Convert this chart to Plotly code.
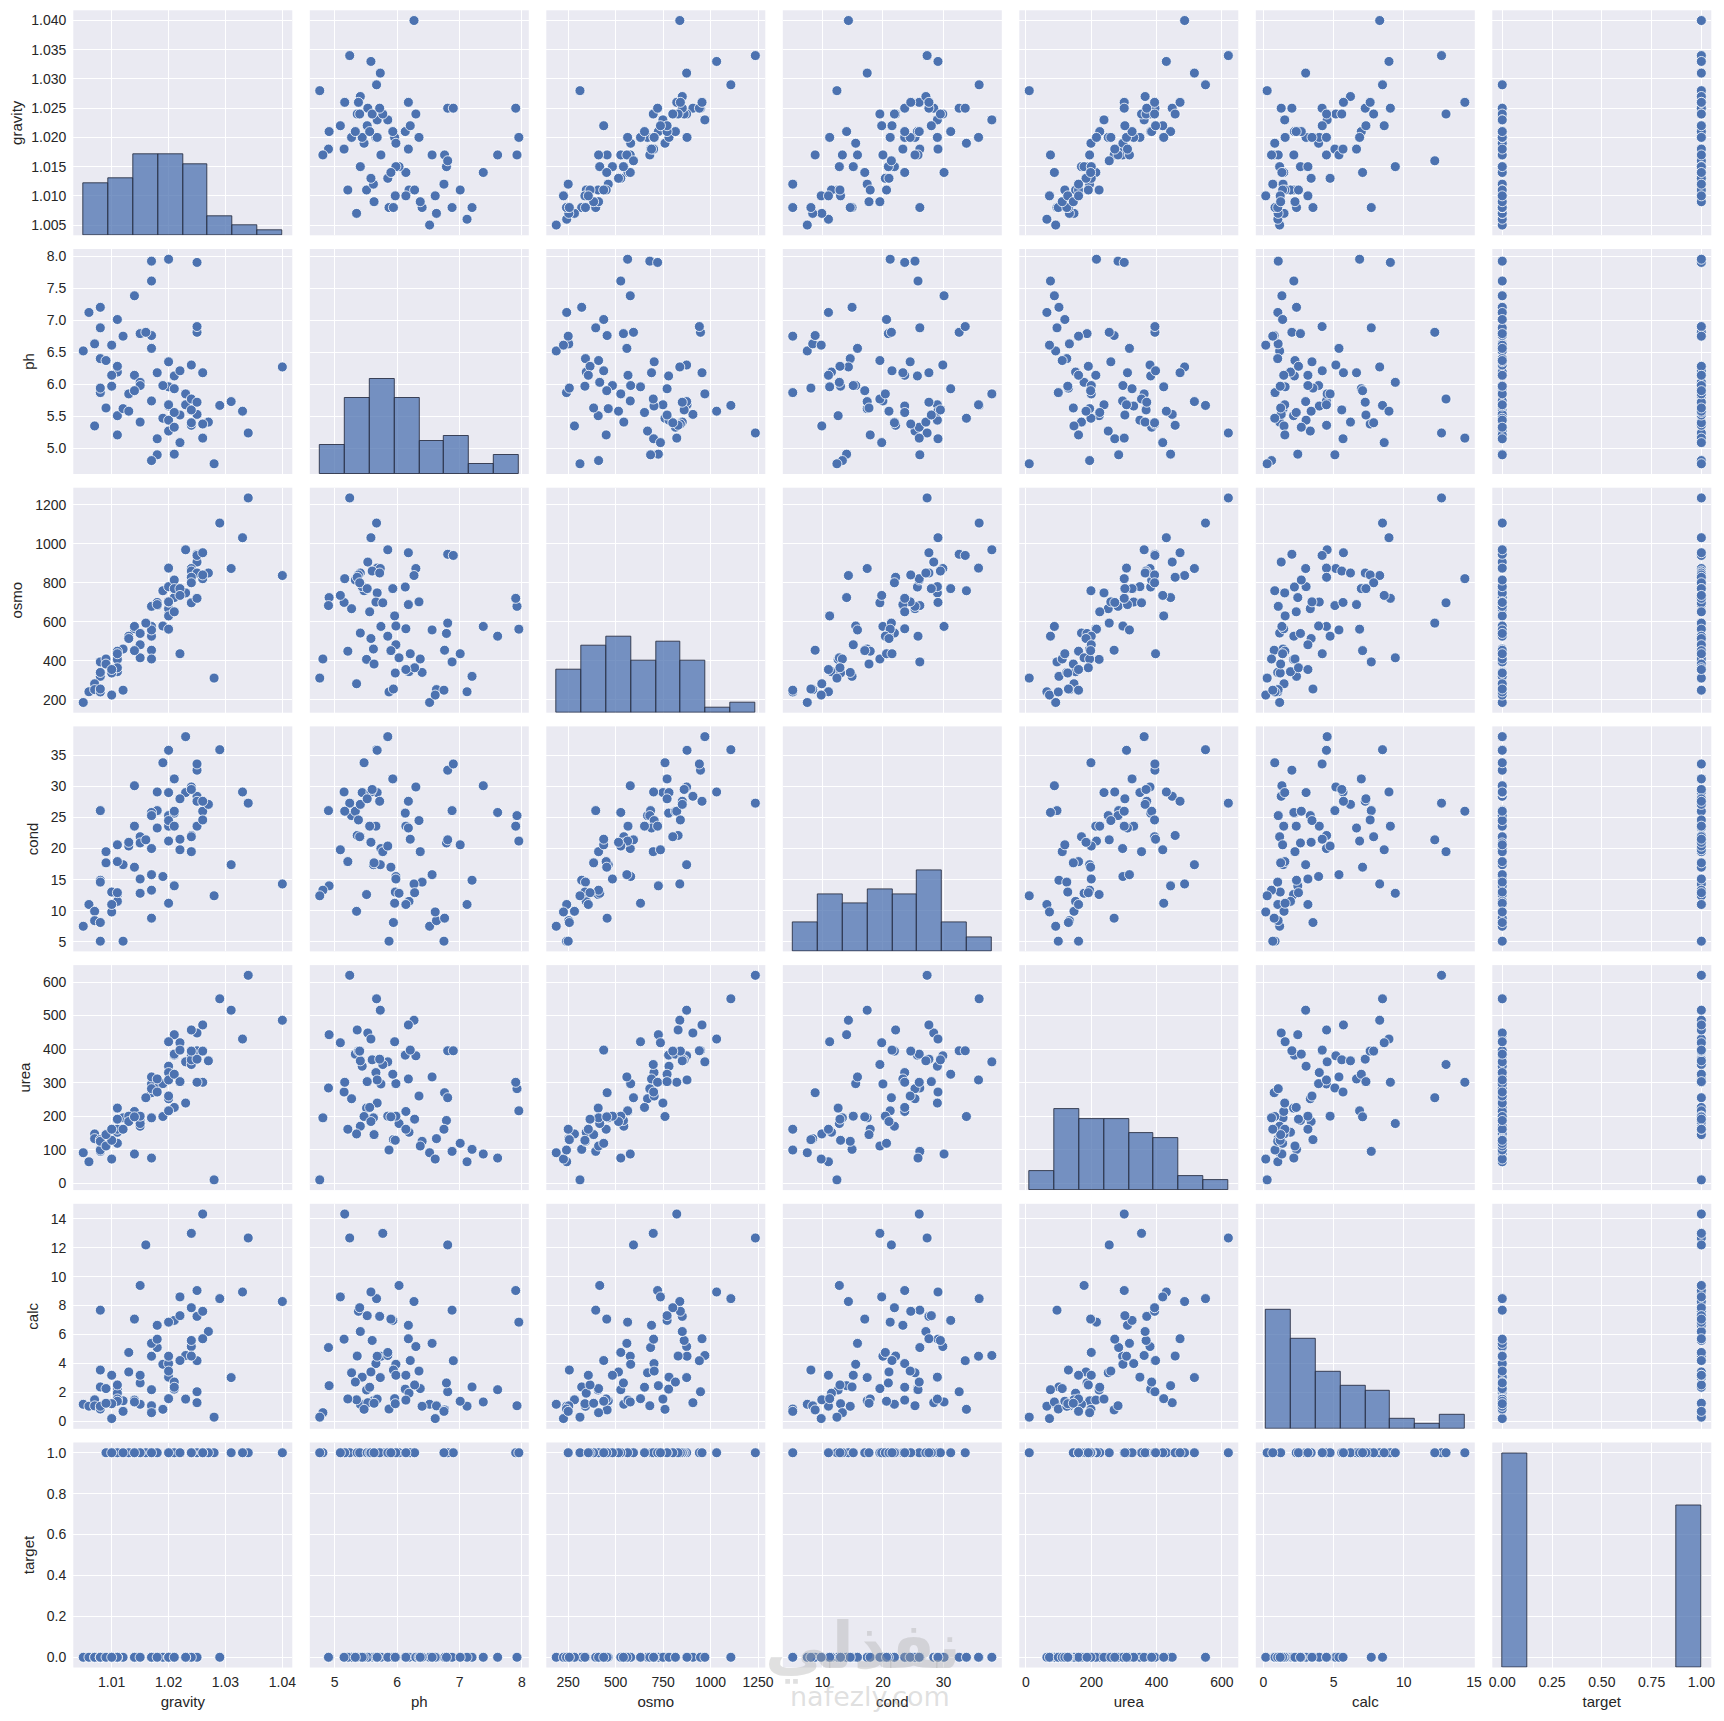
import numpy as np
import plotly.graph_objects as go

# urine analysis sample, one entry per specimen
gravity = [
    1.021, 1.017, 1.008, 1.011, 1.005, 1.020, 1.012, 1.029, 1.015, 1.021,
    1.011, 1.025, 1.006, 1.007, 1.011, 1.018, 1.007, 1.025, 1.008, 1.014,
    1.024, 1.019, 1.014, 1.020, 1.023, 1.017, 1.017, 1.010, 1.008, 1.020,
    1.017, 1.019, 1.017, 1.008, 1.023, 1.020, 1.008, 1.020, 1.009,
    1.020, 1.021, 1.018, 1.015, 1.011, 1.010,
    1.018, 1.034, 1.033, 1.040, 1.026, 1.024, 1.016, 1.025, 1.015, 1.031,
    1.017, 1.028, 1.025, 1.024, 1.025, 1.027, 1.026, 1.024, 1.024, 1.021,
    1.022, 1.022, 1.026, 1.021, 1.020, 1.013, 1.013, 1.015, 1.014, 1.022,
    1.009, 1.011, 1.010, 1.012,
]
ph = [
    4.91, 5.74, 7.20, 5.51, 6.52, 5.27, 5.62, 5.67, 5.41, 6.13,
    6.19, 5.53, 7.12, 5.35, 5.21, 4.90, 6.63, 6.81, 6.88, 6.14,
    6.30, 5.47, 7.38, 5.96, 5.68, 6.76, 7.61, 6.61, 5.87, 5.44,
    7.92, 5.98, 6.56, 5.94, 5.85, 5.66, 6.40, 6.35, 6.37,
    5.68, 5.33, 5.15, 6.79, 7.01, 5.97,
    6.18, 5.24, 5.58, 6.27, 5.16, 5.77, 6.81, 7.90, 6.03, 5.73,
    4.81, 4.76, 6.90, 5.60, 5.72, 5.41, 5.38, 5.36, 5.40, 5.93,
    5.52, 5.09, 6.18, 5.56, 7.95, 5.85, 5.58, 5.98, 5.90, 6.21,
    5.63, 6.28, 6.14, 6.75,
]
osmo = [
    725, 577, 321, 408, 187, 668, 461, 1107, 543, 779,
    345, 907, 242, 283, 450, 684, 253, 947, 395, 565,
    874, 760, 577, 631, 749, 455, 527, 225, 241, 781,
    680, 579, 559, 256, 970, 702, 341, 703, 410,
    876, 815, 700, 541, 437, 338,
    689, 1236, 1032, 838, 822, 698, 594, 721, 416, 874,
    410, 312, 941, 861, 851, 851, 841, 829, 801, 771,
    771, 736, 955, 652, 563, 527, 515, 483, 453, 437,
    384, 365, 356, 250,
]
cond = [
    14.0, 20.0, 14.9, 12.6, 7.5, 25.3, 17.4, 35.9, 21.9, 25.7,
    11.5, 28.4, 11.0, 9.9, 17.9, 26.1, 8.4, 32.6, 26.1, 23.6,
    29.9, 33.8, 30.1, 11.2, 29.0, 8.8, 25.8, 9.8, 5.1, 29.0,
    25.3, 15.5, 15.8, 8.1, 38.0, 23.6, 14.6, 24.5, 19.5,
    35.8, 26.0, 29.1, 20.9, 20.6, 13.0,
    23.3, 27.3, 29.1, 14.3, 26.0, 19.5, 21.4, 23.6, 12.8, 17.4,
    13.3, 12.4, 33.6, 29.5, 27.6, 27.1, 24.6, 22.1, 21.9, 31.2,
    28.0, 19.8, 27.6, 23.6, 21.2, 20.4, 21.0, 15.1, 17.0, 21.5,
    17.7, 12.9, 11.0, 5.1,
]
urea = [
    443, 296, 101, 224, 91, 252, 195, 550, 170, 382,
    152, 448, 64, 147, 161, 284, 133, 395, 95, 214,
    380, 199, 87, 422, 239, 270, 75, 72, 99, 349,
    282, 297, 317, 130, 362, 330, 125, 260, 111,
    308, 385, 272, 187, 119, 128,
    311, 620, 430, 486, 301, 354, 255, 301, 178, 516,
    195, 10, 395, 368, 370, 365, 394, 457, 394, 325,
    303, 419, 472, 226, 216, 200, 184, 200, 198, 397,
    145, 191, 161, 161,
]
calc = [
    2.45, 4.49, 2.36, 2.15, 1.16, 3.34, 1.40, 8.48, 1.16, 2.21,
    1.93, 1.27, 1.03, 1.47, 1.53, 5.09, 1.05, 2.03, 7.68, 1.45,
    5.16, 0.81, 1.32, 1.55, 1.52, 0.77, 2.17, 0.17, 0.83, 3.04,
    1.06, 3.93, 5.38, 3.53, 4.54, 3.98, 1.02, 3.46, 2.25,
    4.49, 2.70, 5.67, 2.64, 1.37, 1.20,
    6.63, 12.68, 8.94, 8.28, 14.34, 13.00, 12.20, 9.04, 9.39, 3.01,
    0.58, 0.27, 4.18, 5.58, 7.25, 6.20, 7.60, 4.50, 7.85, 6.97,
    7.30, 8.60, 5.70, 2.34, 6.85, 4.75, 3.40, 3.17, 7.06, 4.19,
    1.23, 2.50, 3.17, 0.67,
]
target = [
    0, 0, 0, 0, 0, 0, 0, 0, 0, 0,
    0, 0, 0, 0, 0, 0, 0, 0, 0, 0,
    0, 0, 0, 0, 0, 0, 0, 0, 0, 0,
    0, 0, 0, 0, 0, 0, 0, 0, 0,
    0, 0, 0, 0, 0, 0,
    1, 1, 1, 1, 1, 1, 1, 1, 1, 1,
    1, 1, 1, 1, 1, 1, 1, 1, 1, 1,
    1, 1, 1, 1, 1, 1, 1, 1, 1, 1,
    1, 1, 1, 1,
]

variables = ["gravity", "ph", "osmo", "cond", "urea", "calc", "target"]
values = {
    "gravity": gravity, "ph": ph, "osmo": osmo, "cond": cond,
    "urea": urea, "calc": calc, "target": target,
}

# tick positions / labels, x axis and y axis for each variable
xticks = {
    "gravity": ([1.01, 1.02, 1.03, 1.04], ["1.01", "1.02", "1.03", "1.04"]),
    "ph": ([5, 6, 7, 8], ["5", "6", "7", "8"]),
    "osmo": ([250, 500, 750, 1000, 1250], ["250", "500", "750", "1000", "1250"]),
    "cond": ([10, 20, 30], ["10", "20", "30"]),
    "urea": ([0, 200, 400, 600], ["0", "200", "400", "600"]),
    "calc": ([0, 5, 10, 15], ["0", "5", "10", "15"]),
    "target": ([0, 0.25, 0.5, 0.75, 1], ["0.00", "0.25", "0.50", "0.75", "1.00"]),
}
yticks = {
    "gravity": ([1.005, 1.010, 1.015, 1.020, 1.025, 1.030, 1.035, 1.040],
                ["1.005", "1.010", "1.015", "1.020", "1.025", "1.030", "1.035", "1.040"]),
    "ph": ([5.0, 5.5, 6.0, 6.5, 7.0, 7.5, 8.0], ["5.0", "5.5", "6.0", "6.5", "7.0", "7.5", "8.0"]),
    "osmo": ([200, 400, 600, 800, 1000, 1200], ["200", "400", "600", "800", "1000", "1200"]),
    "cond": ([5, 10, 15, 20, 25, 30, 35], ["5", "10", "15", "20", "25", "30", "35"]),
    "urea": ([0, 100, 200, 300, 400, 500, 600], ["0", "100", "200", "300", "400", "500", "600"]),
    "calc": ([0, 2, 4, 6, 8, 10, 12, 14], ["0", "2", "4", "6", "8", "10", "12", "14"]),
    "target": ([0, 0.2, 0.4, 0.6, 0.8, 1.0], ["0.0", "0.2", "0.4", "0.6", "0.8", "1.0"]),
}

BLUE = "#4C72B0"
TEXT = "#262626"
# page body keeps its default 8px margin, so the figure is laid out 8px in
PAGE_OFF = 8
FW, FH = 1708, 1705
left0, col_step, pw = 73.3, 236.5, 219.0   # page pixels
top0, row_step, ph_h = 10.3, 238.7, 225.0


def padded(v):
    lo, hi = min(v), max(v)
    d = (hi - lo) * 0.05
    return [lo - d, hi + d]


def ax_name(kind, k):
    return kind if k == 1 else f"{kind}{k}"


n = len(variables)
# float input so numpy's auto binning treats the 0/1 target like seaborn does
hists = {v: np.histogram(np.asarray(values[v], dtype=float), bins="auto") for v in variables}
# diagonal panels share one count scale (seaborn's diag_sharey)
count_top = max(c.max() for c, _ in hists.values()) * 1.05

fig = go.Figure()
layout = {}
axis_style = dict(
    showgrid=True, gridcolor="white", gridwidth=1.3, zeroline=False,
    showline=False, ticks="", tickfont=dict(size=14, color=TEXT),
    automargin=False,
)

for i, yv in enumerate(variables):
    for j, xv in enumerate(variables):
        k = i * n + j + 1
        xl = (left0 + j * col_step - PAGE_OFF) / FW
        xr = (left0 + j * col_step + pw - PAGE_OFF) / FW
        yt = 1 - (top0 + i * row_step - PAGE_OFF) / FH
        yb = 1 - (top0 + i * row_step + ph_h - PAGE_OFF) / FH
        x_rng = padded(values[xv])
        y_rng = padded(values[yv])
        layout[ax_name("xaxis", k)] = dict(
            domain=[xl, xr], anchor=ax_name("y", k), range=x_rng,
            tickvals=xticks[xv][0], ticktext=xticks[xv][1],
            showticklabels=(i == n - 1), ticklabelstandoff=4,
            title=dict(text=xv if i == n - 1 else "", font=dict(size=15, color=TEXT), standoff=7),
            **axis_style,
        )
        layout[ax_name("yaxis", k)] = dict(
            domain=[yb, yt], anchor=ax_name("x", k), range=y_rng,
            tickvals=yticks[yv][0], ticktext=yticks[yv][1],
            showticklabels=(j == 0), ticklabelstandoff=6,
            title=dict(text=yv if j == 0 else "", font=dict(size=15, color=TEXT), standoff=8),
            **axis_style,
        )
        if i == j:
            counts, edges = hists[xv]
            keep = counts > 0
            span = y_rng[1] - y_rng[0]
            fig.add_trace(go.Bar(
                x=((edges[:-1] + edges[1:]) / 2)[keep], y=counts[keep] / count_top * span,
                base=y_rng[0], width=np.diff(edges)[keep],
                xaxis=ax_name("x", k), yaxis=ax_name("y", k),
                marker=dict(color="rgba(76,114,176,0.75)",
                            line=dict(color="rgba(38,44,64,0.85)", width=1)),
                customdata=counts[keep], hovertemplate="%{customdata}<extra></extra>",
                showlegend=False,
            ))
        else:
            fig.add_trace(go.Scatter(
                x=values[xv], y=values[yv], mode="markers",
                xaxis=ax_name("x", k), yaxis=ax_name("y", k),
                marker=dict(color=BLUE, size=10, line=dict(color="white", width=0.8)),
                showlegend=False,
            ))

fig.update_layout(
    width=FW, height=FH,
    margin=dict(l=0, r=0, t=0, b=0),
    paper_bgcolor="white", plot_bgcolor="#EAEAF2",
    font=dict(family="Liberation Sans, Arial, sans-serif", color=TEXT),
    bargap=0, barmode="overlay",
    **layout,
)

# faint site watermark near the bottom
fig.add_annotation(text="<b>نفذلي</b>", x=855 / FW, y=1 - 1638 / FH, xref="paper", yref="paper",
                   xanchor="center", yanchor="middle", showarrow=False,
                   font=dict(family="DejaVu Sans", size=64, color="rgba(165,165,165,0.35)"))
fig.add_annotation(text="nafezly.com", x=862 / FW, y=1 - 1688 / FH, xref="paper", yref="paper",
                   xanchor="center", yanchor="middle", showarrow=False,
                   font=dict(family="DejaVu Sans", size=27, color="rgba(165,165,165,0.35)"))

fig.write_html("out.html")
